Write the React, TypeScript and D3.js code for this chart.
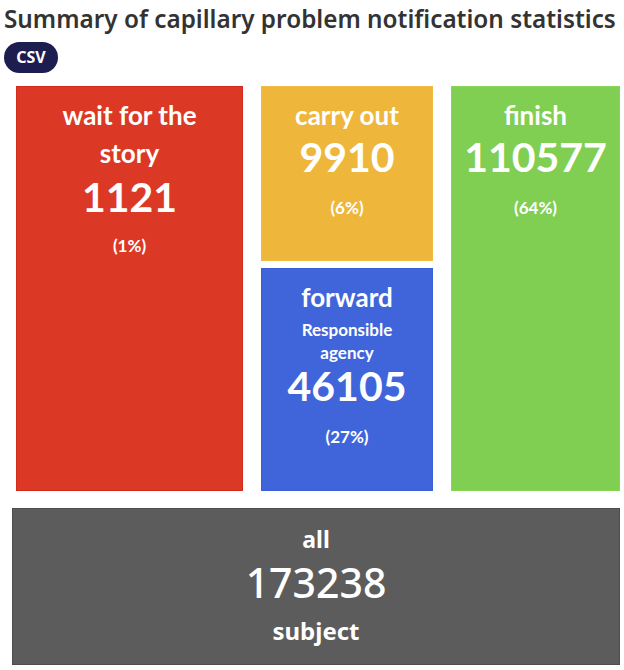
import React, { useRef, useEffect } from "react";
import { select, format } from "d3";

// data
const titleText = "Summary of capillary problem notification statistics";
const categoryLines = [["wait for the", "story"], ["carry out"], ["forward"], ["finish"]];
const subLines = [[], [], ["Responsible", "agency"], []];
const values = [1121, 9910, 46105, 110577];
const totalValue = 173238;
const totalLabel = "all";
const totalUnit = "subject";
const colors = ["#dc3826", "#eeb73c", "#4065db", "#80cf52"];
const borders = ["#d22a1c", "#f0bb44", "#3d5fd6", "#86d65a"];

const W = 624;
const H = 670;

const App = () => {
  const svgRef = useRef();

  useEffect(() => {
    document.body.style.margin = "0";
    const svg = select(svgRef.current);
    svg.selectAll("*").remove();

    const pct = format(".0%");
    const font = "Lato, 'Noto Sans', sans-serif";

    // title, shrunk to fit the width
    const title = svg.append("text")
      .attr("x", 4)
      .attr("y", 28)
      .attr("fill", "#333333")
      .attr("font-family", "'Noto Sans', sans-serif")
      .attr("font-size", 25)
      .attr("font-weight", 600)
      .text(titleText);
    const tw = title.node().getComputedTextLength();
    if (tw > 612) title.attr("font-size", Math.floor(25 * 612 / tw * 10) / 10);

    // csv pill
    svg.append("rect")
      .attr("x", 4).attr("y", 42).attr("width", 54).attr("height", 31)
      .attr("rx", 15.5).attr("fill", "#1d1d4f");
    svg.append("text")
      .attr("x", 31).attr("y", 63)
      .attr("text-anchor", "middle")
      .attr("fill", "#fff")
      .attr("font-family", "'Noto Sans', sans-serif")
      .attr("font-weight", 700)
      .attr("font-size", 16)
      .text("CSV");

    // box layout: [x, y, w, h]
    const boxes = [
      [16, 86, 227, 405],
      [261, 86, 172, 175],
      [261, 268, 172, 223],
      [451, 86, 169, 405]
    ];

    boxes.forEach(([x, y, w, h], i) => {
      const g = svg.append("g").attr("transform", `translate(${x},${y})`);
      g.append("rect")
        .attr("x", 0.5).attr("y", 0.5)
        .attr("width", w - 1).attr("height", h - 1)
        .attr("fill", colors[i])
        .attr("stroke", borders[i]);

      const cx = w / 2;
      let yy = 39;
      const lines = [];
      categoryLines[i].forEach((t, k) => {
        if (k > 0) yy += 38;
        lines.push({ t, y: yy, size: 26, weight: 700 });
      });
      subLines[i].forEach((t, k) => {
        yy += k === 0 ? 29 : 23;
        lines.push({ t, y: yy, size: 17, weight: 700 });
      });
      yy += subLines[i].length ? 42 : (categoryLines[i].length > 1 ? 49 : 47);
      lines.push({ t: String(values[i]), y: yy, size: 41, weight: 700 });
      yy += categoryLines[i].length > 1 ? 40 : 42;
      lines.push({ t: `(${pct(values[i] / totalValue)})`, y: yy, size: 17, weight: 700 });

      g.selectAll("text.lbl")
        .data(lines)
        .enter()
        .append("text")
        .attr("class", "lbl")
        .attr("x", cx)
        .attr("y", d => d.y)
        .attr("text-anchor", "middle")
        .attr("fill", "#ffffff")
        .attr("font-family", font)
        .attr("font-size", d => d.size)
        .attr("font-weight", d => d.weight)
        .text(d => d.t);
    });

    // total box
    const tg = svg.append("g").attr("transform", "translate(12,508)");
    tg.append("rect")
      .attr("x", 0.5).attr("y", 0.5).attr("width", 607).attr("height", 156)
      .attr("fill", "#5c5c5c").attr("stroke", "#4e4e4e");
    const tl = [
      { t: totalLabel, y: 40, size: 23 },
      { t: String(totalValue), y: 90, size: 41 },
      { t: totalUnit, y: 132, size: 24 }
    ];
    tg.selectAll("text")
      .data(tl)
      .enter()
      .append("text")
      .attr("x", 304)
      .attr("y", d => d.y)
      .attr("text-anchor", "middle")
      .attr("fill", "#ffffff")
      .attr("font-family", "'Noto Sans', sans-serif")
      .attr("font-weight", d => (d.size > 30 ? 500 : 700))
      .attr("font-size", d => d.size)
      .text(d => d.t);
  }, []);

  return (
    <svg ref={svgRef} width={W} height={H} style={{ display: "block", background: "#fff" }} />
  );
};

export default App;
